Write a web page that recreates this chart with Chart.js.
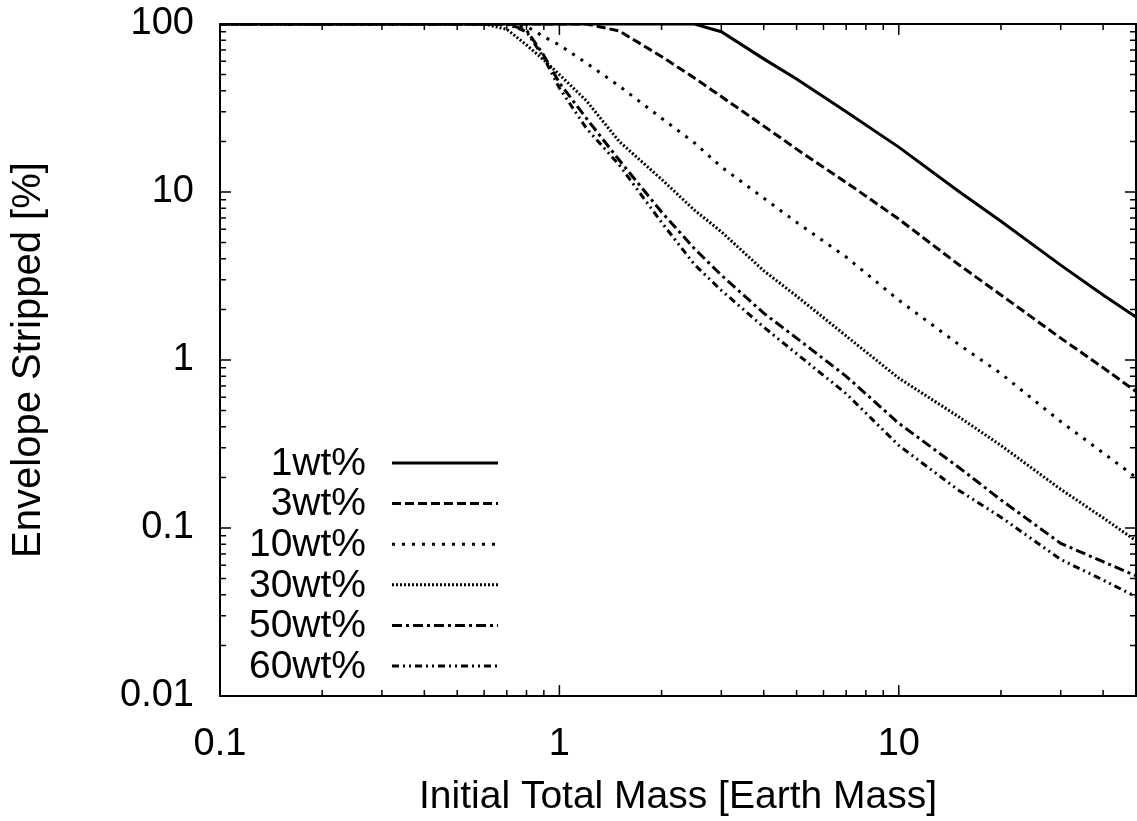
<!DOCTYPE html>
<html>
<head>
<meta charset="utf-8">
<script src="https://cdn.jsdelivr.net/npm/chart.js@4"></script>
<style>
html, body { margin: 0; padding: 0; background: #fff; }
</style>
</head>
<body>
<canvas id="c" width="1137" height="821"></canvas>
<script>
// initial total mass [Earth mass]
const masses = [0.1, 0.5, 0.6, 0.7, 0.8, 0.9, 1, 1.2, 1.5, 2, 2.5, 3, 4, 5, 7, 10, 15, 20, 30, 40, 50];

// envelope stripped [%]
const wt1  = [100, 100, 100, 100, 100, 100, 100, 100, 100, 100, 100, 90, 62, 47, 30, 18.5, 10.1, 6.7, 3.67, 2.44, 1.8];
const wt3  = [100, 100, 100, 100, 100, 100, 100, 100, 91, 64, 47.7, 37, 24.7, 18, 11.4, 6.9, 3.7, 2.44, 1.35, 0.9, 0.65];
const wt10 = [100, 100, 100, 100, 97, 84, 75, 58.6, 42.8, 27.5, 19.6, 14.1, 9.2, 6.6, 4.1, 2.27, 1.24, 0.83, 0.43, 0.28, 0.2];
const wt30 = [100, 100, 100, 93, 75, 61, 50, 35, 20, 11.9, 7.8, 5.8, 3.4, 2.4, 1.39, 0.78, 0.46, 0.31, 0.17, 0.115, 0.084];
const wt50 = [100, 100, 100, 100, 92, 65, 44.6, 27.5, 15.5, 7.6, 4.6, 3.2, 1.9, 1.35, 0.8, 0.42, 0.23, 0.147, 0.081, 0.063, 0.052];
const wt60 = [100, 100, 100, 100, 90, 63, 41.6, 24, 14.5, 6.6, 3.7, 2.6, 1.57, 1.09, 0.63, 0.31, 0.168, 0.116, 0.065, 0.049, 0.039];

const seriesLabels = ['1wt%', '3wt%', '10wt%', '30wt%', '50wt%', '60wt%'];
const seriesValues = [wt1, wt3, wt10, wt30, wt50, wt60];
const seriesDash = [[], [9, 4], [3, 7], [2, 2], [10, 4, 3, 4], [7, 4, 2, 4, 2, 4]];

const xMajor = [0.1, 1, 10];
const yMajor = [0.01, 0.1, 1, 10, 100];

const FONT = '"Liberation Sans", Helvetica, Arial, sans-serif';

const datasets = seriesValues.map((vals, i) => ({
    label: seriesLabels[i],
    data: masses.map((m, j) => ({x: m, y: vals[j]})),
    borderColor: '#000',
    borderWidth: 3,
    borderDash: seriesDash[i],
    pointRadius: 0,
    fill: false,
    tension: 0
}));

// gnuplot style frame with inward ticks on all four sides, plus the key
const framePlugin = {
    id: 'frame',
    afterDatasetsDraw(chart) {
        const {ctx, chartArea: a, scales} = chart;
        ctx.save();
        ctx.strokeStyle = '#000';
        ctx.lineWidth = 2;
        ctx.setLineDash([]);
        ctx.strokeRect(a.left, a.top, a.right - a.left, a.bottom - a.top);

        const logTicks = (min, max) => {
            let out = [];
            for (let d = Math.floor(Math.log10(min)); d <= Math.ceil(Math.log10(max)); d++) {
                for (let k = 1; k < 10; k++) {
                    const v = k * Math.pow(10, d);
                    if (v >= min * 0.999 && v <= max * 1.001) out.push({v, major: k === 1});
                }
            }
            return out;
        };
        ctx.lineWidth = 1.5;
        ctx.beginPath();
        logTicks(scales.x.min, scales.x.max).forEach(t => {
            const px = scales.x.getPixelForValue(t.v);
            const len = t.major ? 11 : 6;
            ctx.moveTo(px, a.bottom); ctx.lineTo(px, a.bottom - len);
            ctx.moveTo(px, a.top); ctx.lineTo(px, a.top + len);
        });
        logTicks(scales.y.min, scales.y.max).forEach(t => {
            const py = scales.y.getPixelForValue(t.v);
            const len = t.major ? 11 : 6;
            ctx.moveTo(a.left, py); ctx.lineTo(a.left + len, py);
            ctx.moveTo(a.right, py); ctx.lineTo(a.right - len, py);
        });
        ctx.stroke();

        // key
        ctx.font = '39px ' + FONT;
        ctx.fillStyle = '#000';
        ctx.textAlign = 'right';
        ctx.textBaseline = 'middle';
        chart.data.datasets.forEach((ds, i) => {
            const y = 463 + i * 40.6;
            ctx.fillText(ds.label, 366, y + 1);
            ctx.beginPath();
            ctx.lineWidth = ds.borderWidth;
            ctx.setLineDash(ds.borderDash);
            ctx.moveTo(392, y);
            ctx.lineTo(498, y);
            ctx.stroke();
        });
        ctx.restore();
    }
};

new Chart(document.getElementById('c'), {
    type: 'line',
    data: {datasets},
    options: {
        responsive: false,
        animation: false,
        layout: {padding: {top: 24, right: 1, left: 0, bottom: 0}},
        plugins: {legend: {display: false}, tooltip: {enabled: false}},
        scales: {
            x: {
                type: 'logarithmic',
                min: 0.1,
                max: 50,
                grid: {display: false, drawTicks: false},
                border: {display: false},
                afterBuildTicks: s => { s.ticks = xMajor.map(v => ({value: v})); },
                afterFit: s => { s.height = 125; s.paddingLeft = 0; s.paddingRight = 0; },
                ticks: {
                    color: '#000',
                    font: {family: FONT, size: 38},
                    padding: 26,
                    maxRotation: 0,
                    callback: v => String(v)
                },
                title: {
                    display: true,
                    text: 'Initial Total Mass [Earth Mass]',
                    color: '#000',
                    font: {family: FONT, size: 39},
                    padding: {top: 0, bottom: 0}
                }
            },
            y: {
                type: 'logarithmic',
                min: 0.01,
                max: 100,
                grid: {display: false, drawTicks: false},
                border: {display: false},
                afterBuildTicks: s => { s.ticks = yMajor.map(v => ({value: v})); },
                afterFit: s => { s.width = 220; s.paddingTop = 0; s.paddingBottom = 0; },
                ticks: {
                    color: '#000',
                    font: {family: FONT, size: 38},
                    padding: 26,
                    callback: v => String(v)
                },
                title: {
                    display: true,
                    text: 'Envelope Stripped [%]',
                    color: '#000',
                    font: {family: FONT, size: 40},
                    padding: {top: 5, bottom: 0}
                }
            }
        }
    },
    plugins: [framePlugin]
});
</script>
</body>
</html>
